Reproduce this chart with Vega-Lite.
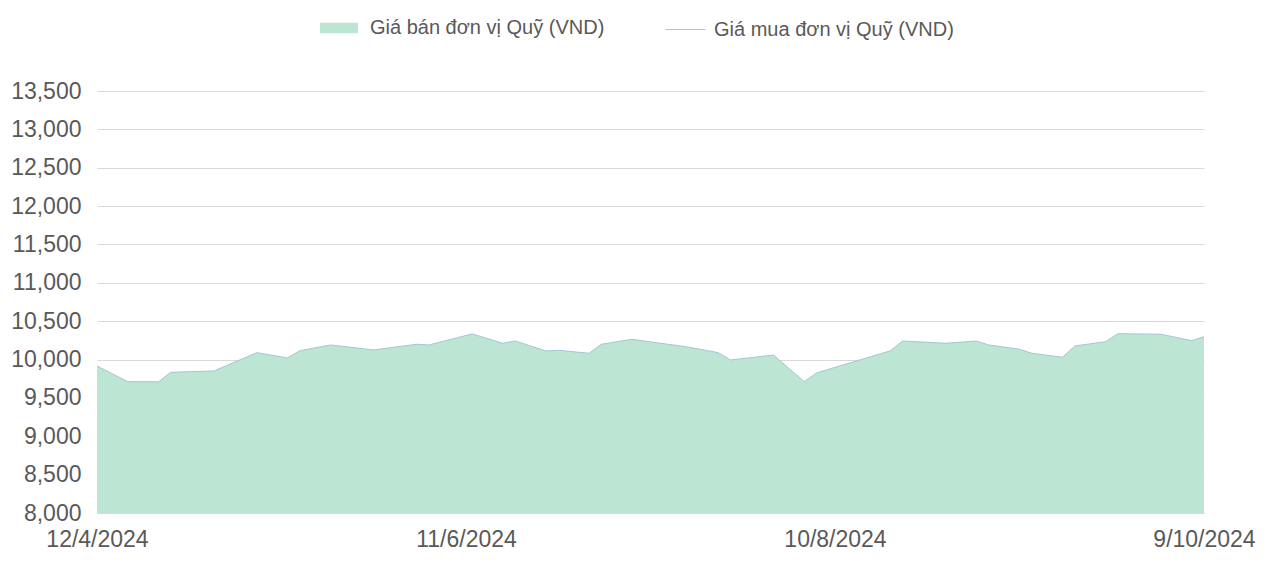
{
  "$schema": "https://vega.github.io/schema/vega-lite/v6.json",
  "width": 1107,
  "height": 422,
  "autosize": {"type": "none"},
  "padding": {"left": 97, "top": 91, "right": 76, "bottom": 53},
  "background": "#ffffff",
  "config": {
    "font": "Liberation Sans",
    "view": {"stroke": null},
    "axis": {"labelColor": "#595959", "labelFontSize": 23, "domain": false, "ticks": false, "gridColor": "#d9d9d9", "gridWidth": 1.2}
  },
  "data": {
    "values": [
      {"date": "2024-04-12", "ban": 9916, "mua": 9916},
      {"date": "2024-04-17", "ban": 9712, "mua": 9712},
      {"date": "2024-04-22", "ban": 9710, "mua": 9710},
      {"date": "2024-04-24", "ban": 9834, "mua": 9834},
      {"date": "2024-05-01", "ban": 9851, "mua": 9851},
      {"date": "2024-05-08", "ban": 10090, "mua": 10090},
      {"date": "2024-05-13", "ban": 10021, "mua": 10021},
      {"date": "2024-05-15", "ban": 10116, "mua": 10116},
      {"date": "2024-05-20", "ban": 10190, "mua": 10190},
      {"date": "2024-05-27", "ban": 10125, "mua": 10125},
      {"date": "2024-06-03", "ban": 10199, "mua": 10199},
      {"date": "2024-06-05", "ban": 10190, "mua": 10190},
      {"date": "2024-06-12", "ban": 10334, "mua": 10334},
      {"date": "2024-06-17", "ban": 10212, "mua": 10212},
      {"date": "2024-06-19", "ban": 10242, "mua": 10242},
      {"date": "2024-06-24", "ban": 10112, "mua": 10112},
      {"date": "2024-06-26", "ban": 10121, "mua": 10121},
      {"date": "2024-07-01", "ban": 10082, "mua": 10082},
      {"date": "2024-07-03", "ban": 10199, "mua": 10199},
      {"date": "2024-07-08", "ban": 10264, "mua": 10264},
      {"date": "2024-07-17", "ban": 10164, "mua": 10164},
      {"date": "2024-07-22", "ban": 10090, "mua": 10090},
      {"date": "2024-07-24", "ban": 9995, "mua": 9995},
      {"date": "2024-07-31", "ban": 10058, "mua": 10058},
      {"date": "2024-08-05", "ban": 9712, "mua": 9712},
      {"date": "2024-08-07", "ban": 9826, "mua": 9826},
      {"date": "2024-08-19", "ban": 10114, "mua": 10114},
      {"date": "2024-08-21", "ban": 10242, "mua": 10242},
      {"date": "2024-08-28", "ban": 10212, "mua": 10212},
      {"date": "2024-09-02", "ban": 10242, "mua": 10242},
      {"date": "2024-09-04", "ban": 10190, "mua": 10190},
      {"date": "2024-09-09", "ban": 10134, "mua": 10134},
      {"date": "2024-09-11", "ban": 10082, "mua": 10082},
      {"date": "2024-09-16", "ban": 10030, "mua": 10030},
      {"date": "2024-09-18", "ban": 10177, "mua": 10177},
      {"date": "2024-09-23", "ban": 10233, "mua": 10233},
      {"date": "2024-09-25", "ban": 10337, "mua": 10337},
      {"date": "2024-10-02", "ban": 10330, "mua": 10330},
      {"date": "2024-10-07", "ban": 10246, "mua": 10246},
      {"date": "2024-10-09", "ban": 10298, "mua": 10298}
    ],
    "format": {"parse": {"date": "utc:'%Y-%m-%d'"}}
  },
  "encoding": {
    "x": {
      "field": "date",
      "type": "temporal",
      "scale": {"type": "utc", "domain": [{"year": 2024, "month": 4, "date": 12, "utc": true}, {"year": 2024, "month": 10, "date": 9, "utc": true}]},
      "axis": {
        "title": null,
        "grid": false,
        "values": [
          {"year": 2024, "month": 4, "date": 12, "utc": true},
          {"year": 2024, "month": 6, "date": 11, "utc": true},
          {"year": 2024, "month": 8, "date": 10, "utc": true},
          {"year": 2024, "month": 10, "date": 9, "utc": true}
        ],
        "labelExpr": "utcFormat(datum.value, '%-d/%-m/%Y')",
        "labelPadding": 15,
        "labelOverlap": false,
        "labelFlush": false,
        "domain": true,
        "domainColor": "#d9d9d9"
      }
    }
  },
  "layer": [
    {
      "mark": {"type": "area", "opacity": 1},
      "encoding": {
        "y": {
          "field": "ban",
          "type": "quantitative",
          "stack": null,
          "scale": {"domain": [8000, 13500], "zero": false, "nice": false},
          "axis": {"title": null, "values": [8000, 8500, 9000, 9500, 10000, 10500, 11000, 11500, 12000, 12500, 13000, 13500], "format": ",.0f", "labelPadding": 16}
        },
        "fill": {
          "datum": "Giá bán đơn vị Quỹ (VND)",
          "type": "nominal",
          "scale": {"range": ["#bde5d3"]},
          "legend": {
            "title": null,
            "orient": "none",
            "legendX": 223,
            "legendY": -82,
            "padding": 0,
            "symbolType": "M-1,-0.27L1,-0.27L1,0.27L-1,0.27Z",
            "symbolSize": 1444,
            "symbolStrokeWidth": 0,
            "symbolOpacity": 1,
            "labelOffset": 12,
            "labelFontSize": 20,
            "labelColor": "#595959",
            "labelLimit": 400
          }
        }
      }
    },
    {
      "mark": {"type": "line", "strokeWidth": 1},
      "encoding": {
        "y": {
          "field": "mua",
          "type": "quantitative",
          "stack": null,
          "scale": {"domain": [8000, 13500], "zero": false, "nice": false},
          "axis": {"title": null, "values": [8000, 8500, 9000, 9500, 10000, 10500, 11000, 11500, 12000, 12500, 13000, 13500], "format": ",.0f", "labelPadding": 16}
        },
        "stroke": {
          "datum": "Giá mua đơn vị Quỹ (VND)",
          "type": "nominal",
          "scale": {"range": ["#a3c6d6"]},
          "legend": {
            "title": null,
            "orient": "none",
            "legendX": 568,
            "legendY": -82,
            "padding": 0,
            "symbolType": "stroke",
            "symbolSize": 1600,
            "symbolStrokeWidth": 1,
            "labelOffset": 8,
            "labelFontSize": 20,
            "labelColor": "#595959",
            "labelLimit": 400
          }
        }
      }
    }
  ]
}
